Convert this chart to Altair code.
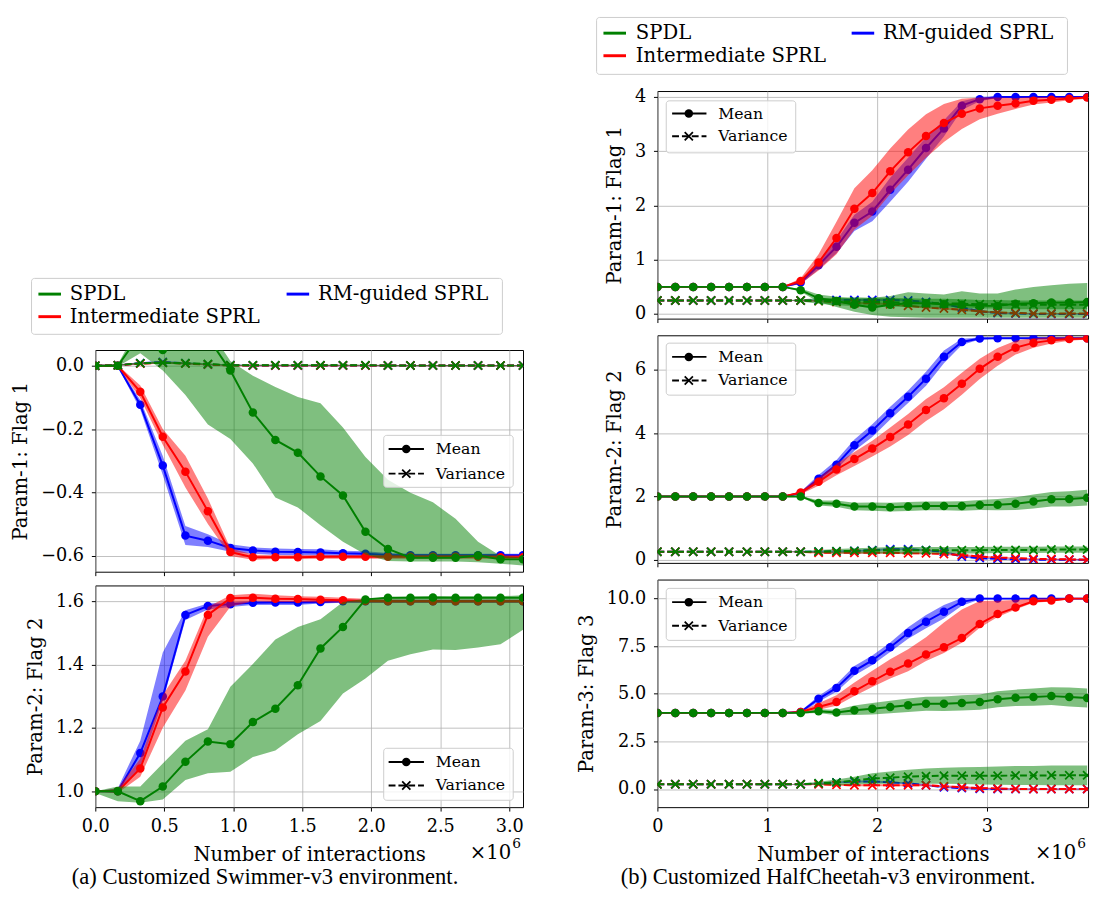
import altair as alt
import pandas as pd

# ---------------- data ----------------
X_SWIM = [0.0, 0.163, 0.326, 0.489, 0.653, 0.816, 0.979, 1.142, 1.305, 1.468,
          1.632, 1.795, 1.958, 2.121, 2.284, 2.447, 2.611, 2.774, 2.937, 3.1]
X_CHEETAH = [0.0, 0.163, 0.326, 0.489, 0.652, 0.815, 0.978, 1.141, 1.304, 1.467,
             1.63, 1.793, 1.956, 2.119, 2.282, 2.445, 2.608, 2.771, 2.934, 3.097,
             3.26, 3.423, 3.586, 3.749, 3.912]

SERIES = ["SPDL", "Intermediate SPRL", "RM-guided SPRL"]
COLORS = ["green", "red", "blue"]

# Swimmer, Param-1: Flag 1
SW1_SPDL_MEAN = [0.0, 0.0, 0.1, 0.05, 0.09, 0.09, -0.015, -0.147, -0.234, -0.274,
                 -0.349, -0.409, -0.524, -0.578, -0.606, -0.606, -0.606, -0.599, -0.611, -0.611]
SW1_SPDL_LO = [0.0, -0.002, 0.04, -0.015, -0.092, -0.185, -0.231, -0.308, -0.416, -0.447,
               -0.503, -0.555, -0.596, -0.616, -0.618, -0.618, -0.618, -0.62, -0.625, -0.63]
SW1_SPDL_HI = [0.0, 0.005, 0.134, 0.144, 0.144, 0.123, 0.015, -0.031, -0.067, -0.098,
               -0.118, -0.195, -0.288, -0.36, -0.401, -0.431, -0.483, -0.555, -0.6, -0.605]
SW1_SPDL_VAR = [0.0, 0.002, 0.008, 0.01, 0.008, 0.006, 0.002, 0.002, 0.002, 0.002,
                0.002, 0.002, 0.002, 0.001, 0.001, 0.001, 0.001, 0.001, 0.001, 0.001]
SW1_INT_MEAN = [0.0, 0.0, -0.082, -0.224, -0.334, -0.459, -0.588, -0.604, -0.604, -0.604,
                -0.603, -0.603, -0.603, -0.603, -0.603, -0.603, -0.603, -0.603, -0.604, -0.604]
SW1_INT_SPREAD = [0.0, 0.003, 0.02, 0.025, 0.05, 0.04, 0.012, 0.008, 0.006, 0.006,
                  0.006, 0.006, 0.006, 0.006, 0.006, 0.006, 0.006, 0.006, 0.006, 0.006]
SW1_INT_VAR = [0.0, 0.002, 0.007, 0.01, 0.007, 0.004, 0.001, 0.001, 0.001, 0.001,
               0.001, 0.001, 0.001, 0.001, 0.001, 0.001, 0.001, 0.001, 0.001, 0.001]
SW1_RM_MEAN = [0.0, 0.0, -0.123, -0.315, -0.536, -0.552, -0.575, -0.583, -0.587, -0.588,
               -0.589, -0.592, -0.593, -0.597, -0.598, -0.598, -0.598, -0.598, -0.598, -0.598]
SW1_RM_SPREAD = [0.0, 0.003, 0.015, 0.03, 0.03, 0.02, 0.012, 0.01, 0.01, 0.01,
                 0.01, 0.008, 0.008, 0.006, 0.005, 0.005, 0.005, 0.005, 0.005, 0.005]
SW1_RM_VAR = [0.0, 0.002, 0.008, 0.012, 0.008, 0.004, 0.002, 0.001, 0.001, 0.001,
              0.001, 0.001, 0.001, 0.001, 0.001, 0.001, 0.001, 0.001, 0.001, 0.001]
SW1_VAR_SPREAD = [0.0, 0.002, 0.003, 0.003, 0.003, 0.002, 0.002, 0.002, 0.002, 0.002,
                  0.002, 0.002, 0.002, 0.002, 0.002, 0.002, 0.002, 0.002, 0.002, 0.002]

# Swimmer, Param-2: Flag 2
SW2_SPDL_MEAN = [1.0, 1.0, 0.969, 1.015, 1.093, 1.157, 1.149, 1.219, 1.261, 1.335,
                 1.451, 1.519, 1.606, 1.611, 1.611, 1.612, 1.611, 1.611, 1.611, 1.611]
SW2_SPDL_LO = [0.995, 0.969, 0.964, 0.974, 1.036, 1.057, 1.062, 1.108, 1.129, 1.18,
               1.222, 1.309, 1.356, 1.412, 1.433, 1.448, 1.446, 1.454, 1.464, 1.51]
SW2_SPDL_HI = [1.0, 1.015, 1.015, 1.088, 1.16, 1.196, 1.33, 1.402, 1.479, 1.519,
               1.543, 1.598, 1.608, 1.613, 1.615, 1.616, 1.616, 1.616, 1.616, 1.619]
SW2_INT_MEAN = [1.0, 1.0, 1.072, 1.265, 1.378, 1.557, 1.61, 1.611, 1.608, 1.607,
                1.605, 1.603, 1.601, 1.6, 1.6, 1.6, 1.6, 1.6, 1.6, 1.6]
SW2_INT_LO = [1.0, 0.995, 1.046, 1.201, 1.318, 1.488, 1.583, 1.6, 1.598, 1.598,
              1.597, 1.596, 1.595, 1.595, 1.595, 1.595, 1.595, 1.595, 1.595, 1.595]
SW2_INT_HI = [1.0, 1.01, 1.103, 1.304, 1.412, 1.582, 1.619, 1.624, 1.619, 1.616,
              1.614, 1.611, 1.608, 1.606, 1.605, 1.605, 1.605, 1.605, 1.605, 1.605]
SW2_RM_MEAN = [1.0, 1.0, 1.121, 1.299, 1.557, 1.585, 1.591, 1.595, 1.596, 1.596,
               1.598, 1.6, 1.6, 1.6, 1.6, 1.6, 1.6, 1.6, 1.6, 1.6]
SW2_RM_LO = [1.0, 0.995, 1.077, 1.284, 1.541, 1.574, 1.582, 1.588, 1.588, 1.588,
             1.593, 1.595, 1.595, 1.595, 1.595, 1.595, 1.595, 1.595, 1.595, 1.595]
SW2_RM_HI = [1.0, 1.01, 1.16, 1.438, 1.572, 1.593, 1.598, 1.601, 1.601, 1.601,
             1.603, 1.605, 1.605, 1.605, 1.605, 1.605, 1.605, 1.605, 1.605, 1.605]

# HalfCheetah, Param-1: Flag 1
HC1_SPDL_MEAN = [0.5, 0.5, 0.5, 0.5, 0.5, 0.5, 0.5, 0.5, 0.44, 0.29, 0.24, 0.17, 0.12,
                 0.17, 0.2, 0.2, 0.18, 0.17, 0.15, 0.15, 0.19, 0.2, 0.21, 0.21, 0.22]
HC1_SPDL_LO = [0.5, 0.5, 0.5, 0.5, 0.5, 0.5, 0.5, 0.5, 0.41, 0.22, 0.13, 0.04, -0.02,
               -0.05, -0.06, -0.07, -0.07, -0.07, -0.07, -0.07, -0.07, -0.07, -0.07, -0.07, -0.07]
HC1_SPDL_HI = [0.5, 0.5, 0.5, 0.5, 0.5, 0.5, 0.5, 0.5, 0.47, 0.36, 0.32, 0.28, 0.3,
               0.33, 0.4, 0.38, 0.36, 0.42, 0.38, 0.38, 0.45, 0.5, 0.53, 0.56, 0.57]
HC1_SPDL_VAR = [0.25, 0.25, 0.25, 0.25, 0.25, 0.25, 0.25, 0.25, 0.25, 0.24, 0.23, 0.23, 0.22,
                0.22, 0.21, 0.2, 0.2, 0.19, 0.18, 0.18, 0.17, 0.17, 0.17, 0.17, 0.17]
HC1_SPDL_VAR_SPREAD = [0, 0, 0, 0, 0, 0, 0, 0, 0.02, 0.05, 0.07, 0.08, 0.08,
                       0.08, 0.08, 0.08, 0.08, 0.08, 0.08, 0.08, 0.08, 0.08, 0.08, 0.08, 0.08]
HC1_INT_MEAN = [0.5, 0.5, 0.5, 0.5, 0.5, 0.5, 0.5, 0.5, 0.61, 0.95, 1.4, 1.94, 2.23,
                2.63, 2.98, 3.28, 3.52, 3.69, 3.79, 3.84, 3.88, 3.93, 3.95, 3.97, 3.99]
HC1_INT_SPREAD = [0, 0, 0, 0, 0, 0, 0, 0, 0.05, 0.15, 0.3, 0.38, 0.42,
                  0.42, 0.42, 0.4, 0.35, 0.28, 0.2, 0.15, 0.1, 0.07, 0.05, 0.03, 0.02]
HC1_INT_VAR = [0.25, 0.25, 0.25, 0.25, 0.25, 0.25, 0.25, 0.25, 0.25, 0.24, 0.22, 0.2, 0.2,
               0.18, 0.15, 0.12, 0.1, 0.08, 0.05, 0.03, 0.02, 0.01, 0.01, 0.01, 0.01]
HC1_RM_MEAN = [0.5, 0.5, 0.5, 0.5, 0.5, 0.5, 0.5, 0.5, 0.58, 0.9, 1.24, 1.68, 1.89,
               2.29, 2.66, 3.06, 3.42, 3.84, 3.96, 4.0, 4.0, 4.0, 4.0, 4.0, 4.0]
HC1_RM_SPREAD = [0, 0, 0, 0, 0, 0, 0, 0, 0.03, 0.08, 0.12, 0.15, 0.18,
                 0.22, 0.22, 0.2, 0.15, 0.08, 0.04, 0.02, 0.01, 0.01, 0.01, 0.01, 0.01]
HC1_RM_VAR = [0.25, 0.25, 0.25, 0.25, 0.25, 0.25, 0.25, 0.25, 0.25, 0.25, 0.26, 0.26, 0.26,
              0.26, 0.25, 0.22, 0.18, 0.12, 0.05, 0.02, 0.01, 0.0, 0.0, 0.0, 0.0]
HC1_OTHER_VAR_SPREAD = [0, 0, 0, 0, 0, 0, 0, 0, 0.01, 0.02, 0.02, 0.02, 0.02,
                        0.02, 0.02, 0.02, 0.02, 0.02, 0.02, 0.01, 0.01, 0.01, 0.01, 0.01, 0.01]

# HalfCheetah, Param-2: Flag 2
HC2_SPDL_MEAN = [2.0, 2.0, 2.0, 2.0, 2.0, 2.0, 2.0, 2.0, 2.0, 1.79, 1.77, 1.68, 1.68,
                 1.66, 1.68, 1.7, 1.7, 1.7, 1.73, 1.74, 1.77, 1.84, 1.91, 1.92, 1.96]
HC2_SPDL_SPREAD = [0, 0, 0, 0, 0, 0, 0, 0, 0.02, 0.08, 0.1, 0.12, 0.13,
                   0.14, 0.14, 0.14, 0.14, 0.15, 0.16, 0.18, 0.2, 0.22, 0.23, 0.24, 0.25]
HC2_SPDL_VAR = [0.25, 0.25, 0.25, 0.25, 0.25, 0.25, 0.25, 0.25, 0.25, 0.26, 0.27, 0.28, 0.29,
                0.3, 0.3, 0.3, 0.3, 0.3, 0.3, 0.31, 0.31, 0.31, 0.32, 0.32, 0.32]
HC2_SPDL_VAR_SPREAD = [0, 0, 0, 0, 0, 0, 0, 0, 0.02, 0.05, 0.07, 0.08, 0.09,
                       0.1, 0.1, 0.1, 0.1, 0.1, 0.1, 0.1, 0.1, 0.1, 0.1, 0.1, 0.1]
HC2_INT_MEAN = [2.0, 2.0, 2.0, 2.0, 2.0, 2.0, 2.0, 2.0, 2.12, 2.46, 2.85, 3.18, 3.51,
                3.88, 4.27, 4.73, 5.1, 5.56, 6.03, 6.41, 6.7, 6.85, 6.93, 6.97, 6.99]
HC2_INT_SPREAD = [0, 0, 0, 0, 0, 0, 0, 0, 0.05, 0.12, 0.18, 0.22, 0.25,
                  0.3, 0.33, 0.35, 0.35, 0.35, 0.32, 0.28, 0.22, 0.15, 0.1, 0.05, 0.03]
HC2_INT_VAR = [0.25, 0.25, 0.25, 0.25, 0.25, 0.25, 0.25, 0.25, 0.25, 0.22, 0.22, 0.22, 0.22,
               0.22, 0.2, 0.2, 0.18, 0.15, 0.1, 0.07, 0.05, 0.03, 0.02, 0.01, 0.0]
HC2_RM_MEAN = [2.0, 2.0, 2.0, 2.0, 2.0, 2.0, 2.0, 2.0, 2.1, 2.56, 3.0, 3.62, 4.08,
               4.63, 5.15, 5.72, 6.41, 6.88, 6.99, 7.0, 7.0, 7.0, 7.0, 7.0, 7.0]
HC2_RM_SPREAD = [0, 0, 0, 0, 0, 0, 0, 0, 0.05, 0.12, 0.15, 0.18, 0.2,
                 0.2, 0.2, 0.22, 0.2, 0.1, 0.03, 0.02, 0.02, 0.02, 0.02, 0.02, 0.02]
HC2_RM_VAR = [0.25, 0.25, 0.25, 0.25, 0.25, 0.25, 0.25, 0.25, 0.25, 0.25, 0.26, 0.28, 0.3,
              0.33, 0.33, 0.3, 0.25, 0.1, 0.05, 0.03, 0.01, 0.0, 0.0, 0.0, 0.0]
HC2_OTHER_VAR_SPREAD = [0, 0, 0, 0, 0, 0, 0, 0, 0.02, 0.03, 0.03, 0.03, 0.03,
                        0.03, 0.03, 0.03, 0.03, 0.03, 0.03, 0.02, 0.02, 0.02, 0.02, 0.02, 0.02]

# HalfCheetah, Param-3: Flag 3
HC3_SPDL_MEAN = [4.0, 4.0, 4.0, 4.0, 4.0, 4.0, 4.0, 4.0, 4.0, 4.09, 4.02, 4.14, 4.22,
                 4.31, 4.4, 4.48, 4.48, 4.52, 4.57, 4.72, 4.79, 4.83, 4.88, 4.83, 4.78]
HC3_SPDL_SPREAD = [0, 0, 0, 0, 0, 0, 0, 0, 0.03, 0.1, 0.15, 0.25, 0.3,
                   0.33, 0.35, 0.37, 0.38, 0.4, 0.4, 0.42, 0.43, 0.45, 0.47, 0.5, 0.5]
HC3_SPDL_VAR = [0.25, 0.25, 0.25, 0.25, 0.25, 0.25, 0.25, 0.25, 0.25, 0.3, 0.35, 0.45, 0.55,
                0.6, 0.65, 0.68, 0.7, 0.7, 0.7, 0.7, 0.71, 0.71, 0.72, 0.72, 0.72]
HC3_SPDL_VAR_SPREAD = [0, 0, 0, 0, 0, 0, 0, 0, 0.03, 0.08, 0.15, 0.2, 0.28,
                       0.32, 0.36, 0.4, 0.42, 0.44, 0.46, 0.48, 0.5, 0.5, 0.52, 0.52, 0.52]
HC3_INT_MEAN = [4.0, 4.0, 4.0, 4.0, 4.0, 4.0, 4.0, 4.0, 4.05, 4.31, 4.57, 5.14, 5.66,
                6.16, 6.59, 7.07, 7.45, 7.93, 8.67, 9.19, 9.53, 9.86, 9.9, 10.0, 10.0]
HC3_INT_UP = [0, 0, 0, 0, 0, 0, 0, 0, 0.05, 0.2, 0.35, 0.45, 0.55,
              0.65, 0.75, 0.9, 1.3, 1.5, 1.2, 0.7, 0.4, 0.15, 0.1, 0.05, 0.03]
HC3_INT_DOWN = [0, 0, 0, 0, 0, 0, 0, 0, 0.05, 0.15, 0.2, 0.25, 0.3,
                0.35, 0.4, 0.35, 0.3, 0.25, 0.2, 0.15, 0.1, 0.08, 0.05, 0.03, 0.02]
HC3_INT_VAR = [0.25, 0.25, 0.25, 0.25, 0.25, 0.25, 0.25, 0.25, 0.25, 0.25, 0.22, 0.2, 0.2,
               0.2, 0.2, 0.2, 0.15, 0.1, 0.05, 0.03, 0.01, 0.0, 0.0, 0.0, 0.0]
HC3_RM_MEAN = [4.0, 4.0, 4.0, 4.0, 4.0, 4.0, 4.0, 4.0, 4.05, 4.74, 5.31, 6.21, 6.76,
               7.45, 8.19, 8.79, 9.31, 9.83, 10.0, 10.0, 10.0, 10.0, 10.0, 10.0, 10.0]
HC3_RM_SPREAD = [0, 0, 0, 0, 0, 0, 0, 0, 0.05, 0.15, 0.2, 0.25, 0.25,
                 0.25, 0.3, 0.35, 0.35, 0.2, 0.05, 0.03, 0.03, 0.03, 0.03, 0.03, 0.03]
HC3_RM_VAR = [0.25, 0.25, 0.25, 0.25, 0.25, 0.25, 0.25, 0.25, 0.25, 0.28, 0.35, 0.4, 0.4,
              0.35, 0.3, 0.2, 0.1, 0.05, 0.02, 0.0, 0.0, 0.0, 0.0, 0.0, 0.0]
HC3_OTHER_VAR_SPREAD = [0, 0, 0, 0, 0, 0, 0, 0, 0.03, 0.05, 0.05, 0.05, 0.05,
                        0.05, 0.05, 0.05, 0.05, 0.05, 0.05, 0.03, 0.03, 0.03, 0.03, 0.03, 0.03]

CAPTIONS = ["(a) Customized Swimmer-v3 environment.",
            "(b) Customized HalfCheetah-v3 environment."]

# ---------------- helpers ----------------
SERIF = "DejaVu Serif, serif"
CAPFONT = "Liberation Serif, Times New Roman, serif"
XPATH = "M-1,-1L1,1M-1,1L1,-1"
ONE = pd.DataFrame({"k": [0]})
DOT = 75


def lo_hi(mean, down, up=None):
    up = down if up is None else up
    return ([m - d for m, d in zip(mean, down)], [m + u for m, u in zip(mean, up)])


def series(color, mean, lo, hi, var=None, vspread=None):
    s = {"color": color, "mean": mean, "lo": lo, "hi": hi}
    if var is not None:
        vlo, vhi = lo_hi(var, vspread)
        s.update({"var": var, "vlo": vlo, "vhi": vhi})
    return s


def px(chart_mark, **enc):
    return chart_mark.encode(**{k: alt.value(v) for k, v in enc.items()})


def inner_legend(bx0, bx1, by0, by1, lx0, lx1, mx, tx, ym, yv):
    c = alt.Chart(ONE)
    return [
        px(c.mark_rect(fill="white", fillOpacity=0.8, stroke="#cccccc", strokeWidth=1,
                       cornerRadius=3), x=bx0, x2=bx1, y=by0, y2=by1),
        px(c.mark_rule(color="black", strokeWidth=2), x=lx0, x2=lx1, y=ym),
        px(c.mark_circle(color="black", size=DOT, opacity=1), x=mx, y=ym),
        px(c.mark_text(text="Mean", align="left", baseline="middle", font=SERIF,
                       fontSize=16, color="black"), x=tx, y=ym),
        px(c.mark_rule(color="black", strokeWidth=2, strokeDash=[7, 3]), x=lx0, x2=lx1, y=yv),
        px(c.mark_point(shape=XPATH, filled=False, color="black", size=70, strokeWidth=1.8,
                        opacity=1), x=mx, y=yv),
        px(c.mark_text(text="Variance", align="left", baseline="middle", font=SERIF,
                       fontSize=16, color="black"), x=tx, y=yv),
    ]


def panel(xs, sers, xdom, xticks, xfmt, ydom, yticks, yfmt, ytitle, w, h, bottom, legend_layers,
          extra_layers=()):
    xscale = alt.Scale(domain=xdom, nice=False, zero=False)
    yscale = alt.Scale(domain=ydom, nice=False, zero=False)
    if bottom:
        xaxis = alt.Axis(values=xticks, format=xfmt, title="Number of interactions",
                         grid=True, labelFlush=False)
    else:
        xaxis = alt.Axis(values=xticks, labels=False, title="", grid=True)
    yaxis = alt.Axis(values=yticks, format=yfmt, title=ytitle, grid=True)
    X = alt.X("x:Q", scale=xscale, axis=xaxis)
    layers = []
    for s in sers:
        d = {"x": xs, "mean": s["mean"], "lo": s["lo"], "hi": s["hi"]}
        if "var" in s:
            d.update({"var": s["var"], "vlo": s["vlo"], "vhi": s["vhi"]})
        b = alt.Chart(pd.DataFrame(d))
        col = s["color"]
        layers.append(b.mark_area(color=col, opacity=0.5, clip=True).encode(
            x=X, y=alt.Y("lo:Q", scale=yscale, axis=yaxis), y2="hi:Q"))
        layers.append(b.mark_line(color=col, strokeWidth=2, clip=True).encode(
            x=X, y=alt.Y("mean:Q", scale=yscale, axis=yaxis)))
        layers.append(b.mark_circle(color=col, size=DOT, opacity=1, clip=True).encode(
            x=X, y=alt.Y("mean:Q", scale=yscale, axis=yaxis)))
        if "var" in s:
            layers.append(b.mark_area(color=col, opacity=0.5, clip=True).encode(
                x=X, y=alt.Y("vlo:Q", scale=yscale, axis=yaxis), y2="vhi:Q"))
            layers.append(b.mark_line(color=col, strokeWidth=2, strokeDash=[7, 3], clip=True).encode(
                x=X, y=alt.Y("var:Q", scale=yscale, axis=yaxis)))
            layers.append(b.mark_point(shape=XPATH, filled=False, color=col, size=70,
                                       strokeWidth=1.8, opacity=1, clip=True).encode(
                x=X, y=alt.Y("var:Q", scale=yscale, axis=yaxis)))
    layers += legend_layers
    layers += list(extra_layers)
    return alt.layer(*layers).properties(width=w, height=h)


def top_legend(w, h, bx0, bx1, by0, by1, r1, r2, l0, l1, t, c2l0, c2l1, c2t):
    c = alt.Chart(ONE)
    layers = [px(c.mark_rect(fill="white", stroke="#cccccc", strokeWidth=1, cornerRadius=3),
                 x=bx0, x2=bx1, y=by0, y2=by1)]
    spots = [(l0, l1, t, r1), (l0, l1, t, r2), (c2l0, c2l1, c2t, r1)]
    for name, col, (a, b2, tx, ry) in zip(SERIES, COLORS, spots):
        layers.append(px(c.mark_rule(color=col, strokeWidth=3), x=a, x2=b2, y=ry))
        layers.append(px(c.mark_text(text=name, align="left", baseline="middle", font=SERIF,
                                     fontSize=20, color="black"), x=tx, y=ry))
    return alt.layer(*layers).properties(width=w, height=h,
                                         view=alt.ViewBackground(stroke="transparent"))


def bottom_texts(w, h, caption, cap_x):
    c = alt.Chart(ONE)
    return [
        px(c.mark_text(text="\u00d710", align="right", baseline="middle", font=SERIF,
                       fontSize=20, color="black"), x=w - 12, y=h + 47),
        px(c.mark_text(text="6", align="left", baseline="middle", font=SERIF,
                       fontSize=14, color="black"), x=w - 11, y=h + 38),
        px(c.mark_text(text=caption, align="center", baseline="middle", font=CAPFONT,
                       fontSize=23, color="black"), x=cap_x, y=h + 71),
    ]


# ---------------- build panels ----------------
LW, LH = 436, 226
RW, RH = 439, 232

sw1 = [
    series("blue", SW1_RM_MEAN, *lo_hi(SW1_RM_MEAN, SW1_RM_SPREAD), SW1_RM_VAR, SW1_VAR_SPREAD),
    series("red", SW1_INT_MEAN, *lo_hi(SW1_INT_MEAN, SW1_INT_SPREAD), SW1_INT_VAR, SW1_VAR_SPREAD),
    series("green", SW1_SPDL_MEAN, SW1_SPDL_LO, SW1_SPDL_HI, SW1_SPDL_VAR, SW1_VAR_SPREAD),
]
sw2 = [
    series("blue", SW2_RM_MEAN, SW2_RM_LO, SW2_RM_HI),
    series("red", SW2_INT_MEAN, SW2_INT_LO, SW2_INT_HI),
    series("green", SW2_SPDL_MEAN, SW2_SPDL_LO, SW2_SPDL_HI),
]
hc1 = [
    series("blue", HC1_RM_MEAN, *lo_hi(HC1_RM_MEAN, HC1_RM_SPREAD), HC1_RM_VAR, HC1_OTHER_VAR_SPREAD),
    series("red", HC1_INT_MEAN, *lo_hi(HC1_INT_MEAN, HC1_INT_SPREAD), HC1_INT_VAR, HC1_OTHER_VAR_SPREAD),
    series("green", HC1_SPDL_MEAN, HC1_SPDL_LO, HC1_SPDL_HI, HC1_SPDL_VAR, HC1_SPDL_VAR_SPREAD),
]
hc2 = [
    series("blue", HC2_RM_MEAN, *lo_hi(HC2_RM_MEAN, HC2_RM_SPREAD), HC2_RM_VAR, HC2_OTHER_VAR_SPREAD),
    series("red", HC2_INT_MEAN, *lo_hi(HC2_INT_MEAN, HC2_INT_SPREAD), HC2_INT_VAR, HC2_OTHER_VAR_SPREAD),
    series("green", HC2_SPDL_MEAN, *lo_hi(HC2_SPDL_MEAN, HC2_SPDL_SPREAD), HC2_SPDL_VAR,
           HC2_SPDL_VAR_SPREAD),
]
hc3 = [
    series("blue", HC3_RM_MEAN, *lo_hi(HC3_RM_MEAN, HC3_RM_SPREAD), HC3_RM_VAR, HC3_OTHER_VAR_SPREAD),
    series("red", HC3_INT_MEAN, *lo_hi(HC3_INT_MEAN, HC3_INT_DOWN, HC3_INT_UP), HC3_INT_VAR,
           HC3_OTHER_VAR_SPREAD),
    series("green", HC3_SPDL_MEAN, *lo_hi(HC3_SPDL_MEAN, HC3_SPDL_SPREAD), HC3_SPDL_VAR,
           HC3_SPDL_VAR_SPREAD),
]

SW_XT = [0.0, 0.5, 1.0, 1.5, 2.0, 2.5, 3.0]
HC_XT = [0, 1, 2, 3]

L1 = panel(X_SWIM, sw1, [0, 3.1], SW_XT, ".1f", [-0.65, 0.05], [0.0, -0.2, -0.4, -0.6], ".1f",
           "Param-1: Flag 1", LW, LH, False,
           inner_legend(294, 426, 87, 140, 299, 335, 317, 347, 101, 126))
L2 = panel(X_SWIM, sw2, [0, 3.1], SW_XT, ".1f", [0.95, 1.65], [1.0, 1.2, 1.4, 1.6], ".1f",
           "Param-2: Flag 2", LW, LH, True,
           inner_legend(294, 426, 166, 219, 299, 335, 317, 347, 180, 204),
           bottom_texts(LW, LH, CAPTIONS[0], 173))
R1 = panel(X_CHEETAH, hc1, [0, 3.92], HC_XT, "d", [-0.085, 4.11], [0, 1, 2, 3, 4], "d",
           "Param-1: Flag 1", RW, RH, False,
           inner_legend(9, 141, 10, 63, 15, 50, 32, 62, 23, 46))
R2 = panel(X_CHEETAH, hc2, [0, 3.92], HC_XT, "d", [-0.1, 7.09], [0, 2, 4, 6], "d",
           "Param-2: Flag 2", RW, RH, False,
           inner_legend(9, 141, 8, 61, 15, 50, 32, 62, 22, 46))
R3 = panel(X_CHEETAH, hc3, [0, 3.92], HC_XT, "d", [-0.95, 11.0], [0, 2.5, 5, 7.5, 10], ".1f",
           "Param-3: Flag 3", RW, RH, True,
           inner_legend(9, 141, 9, 62, 15, 50, 32, 62, 23, 47),
           bottom_texts(RW, RH, CAPTIONS[1], 174))

legL = top_legend(LW, 325, -65, 415, 266, 323, 282, 305, -58, -35, -26, 195, 218, 227)
legR = top_legend(RW, 58, -62, 418, 0, 58, 16, 39, -55, -32, -22, 198, 221, 230)

left = alt.vconcat(legL, L1, L2, spacing=14, bounds="flush")
right = alt.vconcat(legR, R1, R2, R3, spacing=17, bounds="flush")

chart = alt.hconcat(left, right, spacing=53).properties(
    padding={"left": 2, "top": 0, "right": 2, "bottom": 2}
).configure_axis(
    labelFont=SERIF, titleFont=SERIF, labelFontSize=18, titleFontSize=20,
    titleFontWeight="normal", labelColor="black", titleColor="black",
    tickColor="black", tickSize=4, domain=False, gridColor="#b0b0b0", gridWidth=0.8
).configure_axisX(
    labelPadding=7, titlePadding=9
).configure_axisY(
    labelPadding=8, titlePadding=10
).configure_view(stroke="black", strokeWidth=1)

chart.save("out.html", embed_options={"renderer": "svg", "actions": False})
